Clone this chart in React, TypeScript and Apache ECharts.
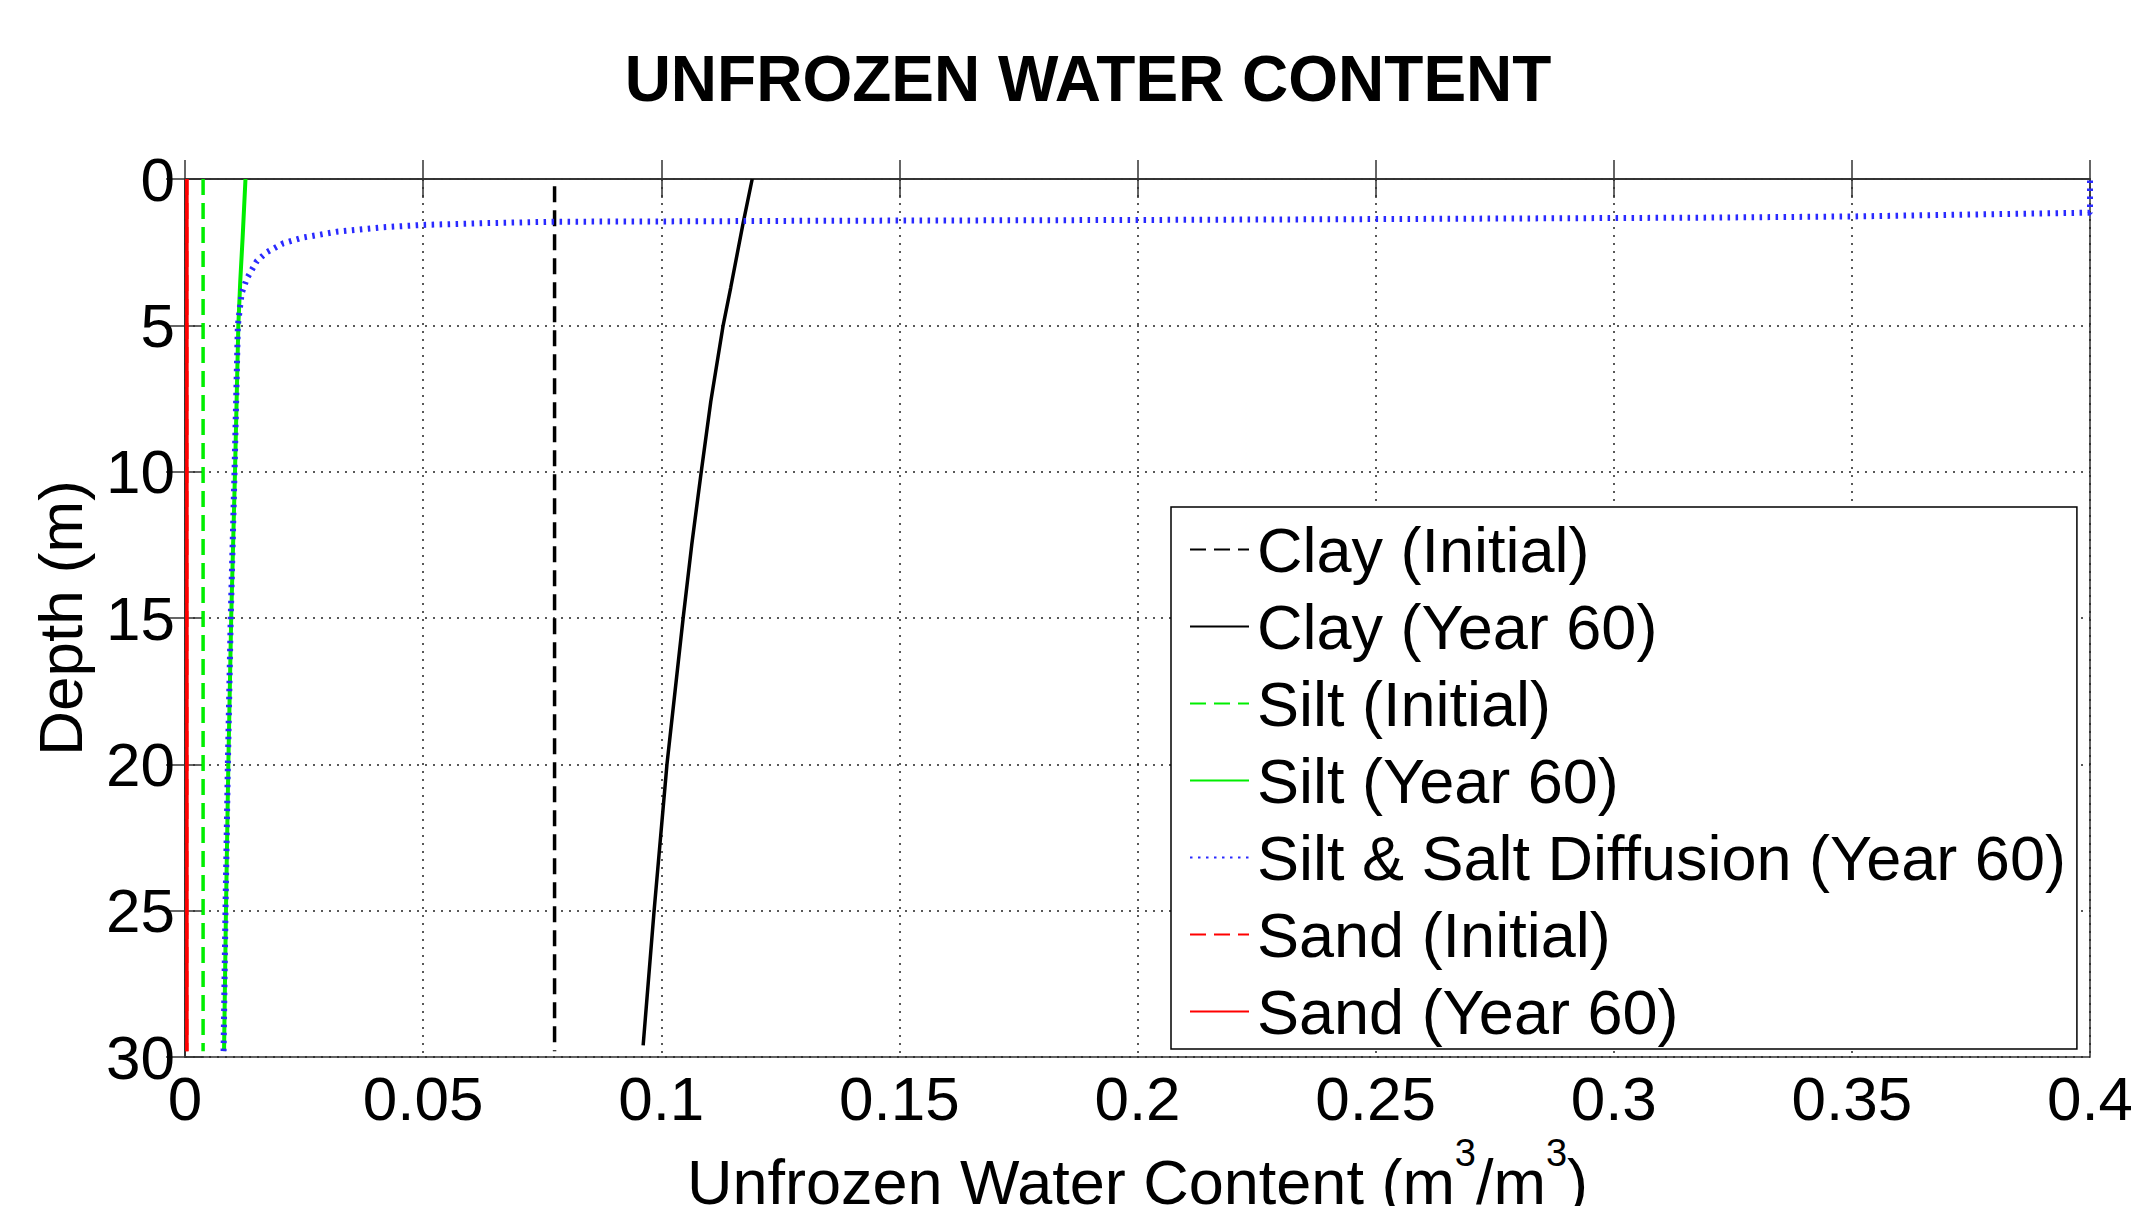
import React, { useEffect, useRef } from "react";
import * as echarts from "echarts";

const FONT = "'Liberation Sans', Arial, Helvetica, sans-serif";

// ---- data (x = unfrozen water content m3/m3, y = depth m) ----
const seriesNames = [
  "Clay (Initial)",
  "Clay (Year 60)",
  "Silt (Initial)",
  "Silt (Year 60)",
  "Silt & Salt Diffusion (Year 60)",
  "Sand (Initial)",
  "Sand (Year 60)",
];

const clayInitialDepth = [0.25, 29.8];
const clayInitialValue = [0.0776, 0.0776];

const clayYear60Depth = [0, 1.5, 3.7, 5, 7.6, 10, 12.5, 15, 20, 25, 29.6];
const clayYear60Value = [0.1191, 0.1172, 0.1146, 0.113, 0.1104, 0.1084, 0.1064, 0.1046, 0.1012, 0.0985, 0.0962];

const siltInitialDepth = [0, 29.8];
const siltInitialValue = [0.0038, 0.0038];

const siltYear60Depth = [0, 2, 3.5, 5, 10, 15, 20, 25, 29.8];
const siltYear60Value = [0.0127, 0.0121, 0.0116, 0.0112, 0.0105, 0.0097, 0.0091, 0.0086, 0.0082];

const siltSaltDepth = [29.8, 25, 20, 15, 10, 5, 3.9, 3.4, 2.8, 2.5, 2.2, 2.0, 1.8, 1.65, 1.57, 1.51, 1.46, 1.45, 1.43, 1.4, 1.37, 1.32, 1.28, 1.2, 1.15, 0];
const siltSaltValue = [0.0081, 0.0085, 0.009, 0.0096, 0.0104, 0.0111, 0.0119, 0.013, 0.0151, 0.0172, 0.0206, 0.0248, 0.0319, 0.0416, 0.0497, 0.0626, 0.0773, 0.0997, 0.1277, 0.2, 0.25, 0.319, 0.35, 0.38, 0.4, 0.4];

const sandInitialDepth = [0, 29.8];
const sandInitialValue = [0.0004, 0.0004];

const sandYear60Depth = [0, 29.8];
const sandYear60Value = [0.0004, 0.0004];

const pairs = (vals: number[], depths: number[]) => vals.map((v, i) => [v, depths[i]]);

export default function App() {
  const ref = useRef<HTMLDivElement>(null);

  useEffect(() => {
    if (!ref.current) return;
    const chart = echarts.init(ref.current, undefined, { renderer: "svg" });

    const mkLine = (
      name: string,
      data: number[][],
      color: string,
      width: number,
      type: any,
      z: number
    ) => ({
      name,
      type: "line",
      data,
      symbol: "none",
      showSymbol: false,
      xAxisIndex: 0,
      yAxisIndex: 0,
      z,
      lineStyle: { color, width, type },
      itemStyle: { color },
      emphasis: { disabled: true },
    });

    const tickFmt = (v: number) => String(+v.toFixed(2));

    const axisLineStyle = { color: "#333", width: 1.5 };

    const option: any = {
      animation: false,
      backgroundColor: "#ffffff",
      textStyle: { fontFamily: FONT },
      title: {
        text: "UNFROZEN WATER CONTENT",
        left: 1088,
        top: 47,
        textAlign: "center",
        padding: 0,
        textStyle: {
          fontFamily: FONT,
          fontSize: 64,
          fontWeight: "bold",
          color: "#000",
          lineHeight: 64,
        },
      },
      grid: {
        left: 185,
        top: 179,
        right: 41,
        bottom: 149,
        outerBoundsMode: "none",
        containLabel: false,
        show: true,
        borderColor: "#333",
        borderWidth: 1.5,
        backgroundColor: "transparent",
      },
      legend: {
        orient: "vertical",
        left: 1171,
        top: 507,
        padding: [11, 11, 6, 18],
        itemGap: 14,
        itemWidth: 59,
        itemHeight: 2,
        backgroundColor: "#ffffff",
        borderColor: "#000",
        borderWidth: 1.5,
        data: seriesNames,
        lineStyle: { width: 2 },
        itemStyle: { color: "rgba(0,0,0,0)", borderColor: "rgba(0,0,0,0)", borderWidth: 0 },
        textStyle: {
          fontFamily: FONT,
          fontSize: 63,
          lineHeight: 63,
          color: "#000",
          padding: [0, 0, 0, 3],
        },
        selectedMode: false,
      },
      xAxis: [
        {
          type: "value",
          position: "bottom",
          min: 0,
          max: 0.4,
          interval: 0.05,
          name: "Unfrozen Water Content (m{sup|3}/m{sup|3})",
          nameLocation: "middle",
          nameGap: 77,
          nameTextStyle: {
            fontFamily: FONT,
            fontSize: 63,
            lineHeight: 96,
            color: "#000",
            rich: {
              sup: {
                fontFamily: FONT,
                fontSize: 38,
                lineHeight: 40,
                verticalAlign: "top",
                color: "#000",
              },
            },
          },
          axisLine: { show: true, lineStyle: axisLineStyle },
          axisTick: { show: true, inside: true, length: 19, lineStyle: axisLineStyle },
          axisLabel: {
            show: true,
            margin: 10,
            fontFamily: FONT,
            fontSize: 62,
            lineHeight: 62,
            color: "#000",
            formatter: tickFmt,
          },
          splitLine: { show: true, lineStyle: { color: "#222", width: 1.5, type: [2, 6] } },
        },
        {
          type: "value",
          position: "top",
          min: 0,
          max: 0.4,
          interval: 0.05,
          axisLine: { show: true, lineStyle: axisLineStyle },
          axisTick: { show: true, inside: true, length: 19, lineStyle: axisLineStyle },
          axisLabel: { show: false },
          splitLine: { show: false },
        },
      ],
      yAxis: [
        {
          type: "value",
          position: "left",
          inverse: true,
          min: 0,
          max: 30,
          interval: 5,
          name: "Depth (m)",
          nameLocation: "middle",
          nameRotate: 90,
          nameGap: 94,
          nameTextStyle: {
            fontFamily: FONT,
            fontSize: 62,
            lineHeight: 62,
            color: "#000",
          },
          axisLine: { show: true, lineStyle: axisLineStyle },
          axisTick: { show: true, inside: true, length: 19, lineStyle: axisLineStyle },
          axisLabel: {
            show: true,
            margin: 10,
            fontFamily: FONT,
            fontSize: 62,
            lineHeight: 62,
            color: "#000",
          },
          splitLine: { show: true, lineStyle: { color: "#222", width: 1.5, type: [2, 6] } },
        },
        {
          type: "value",
          position: "right",
          inverse: true,
          min: 0,
          max: 30,
          interval: 5,
          axisLine: { show: true, lineStyle: axisLineStyle },
          axisTick: { show: true, inside: true, length: 19, lineStyle: axisLineStyle },
          axisLabel: { show: false },
          splitLine: { show: false },
        },
      ],
      series: [
        mkLine(seriesNames[0], pairs(clayInitialValue, clayInitialDepth), "#000000", 3.5, [16, 8], 2),
        mkLine(seriesNames[1], pairs(clayYear60Value, clayYear60Depth), "#000000", 3.5, "solid", 3),
        mkLine(seriesNames[2], pairs(siltInitialValue, siltInitialDepth), "#00ee00", 3.5, [16, 8], 4),
        mkLine(seriesNames[3], pairs(siltYear60Value, siltYear60Depth), "#00ee00", 4, "solid", 5),
        mkLine(seriesNames[4], pairs(siltSaltValue, siltSaltDepth), "#2a2aff", 6, [2.5, 5.5], 6),
        mkLine(seriesNames[5], pairs(sandInitialValue, sandInitialDepth), "#ff0000", 3, [16, 8], 7),
        mkLine(seriesNames[6], pairs(sandYear60Value, sandYear60Depth), "#ff0000", 3.5, "solid", 8),
      ],
    };

    chart.setOption(option);
    return () => chart.dispose();
  }, []);

  return (
    <div
      ref={ref}
      style={{ position: "absolute", left: 0, top: 0, width: 2131, height: 1206, background: "#fff" }}
    />
  );
}
